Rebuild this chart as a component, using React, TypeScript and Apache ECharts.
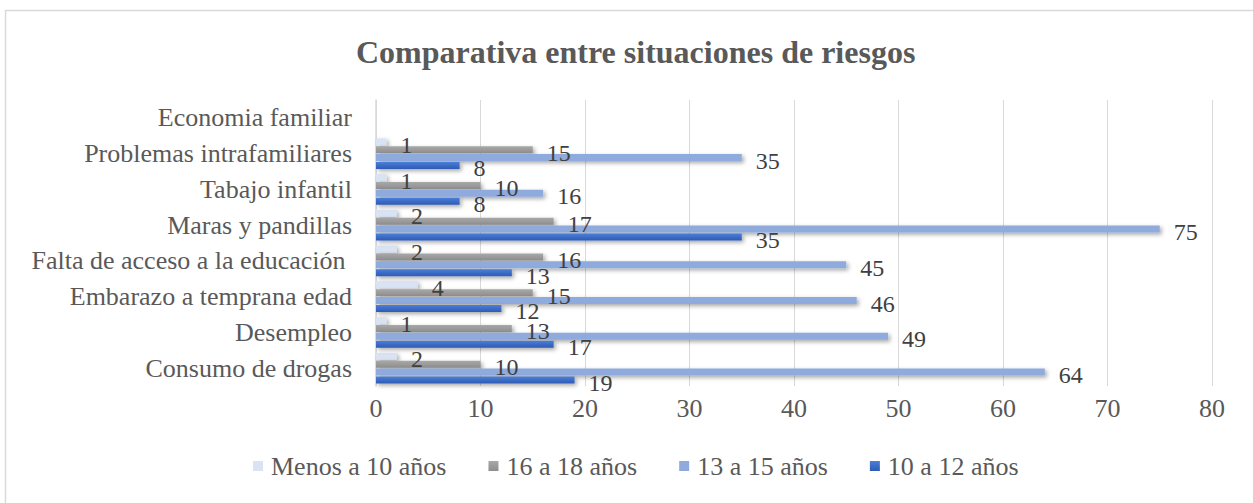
import React, { useEffect, useRef } from "react";
import * as echarts from "echarts";

const categories = [
  "Consumo de drogas",
  "Desempleo",
  "Embarazo a temprana edad",
  "Falta de acceso a la educación ",
  "Maras y pandillas",
  "Tabajo infantil",
  "Problemas intrafamiliares",
  "Economia familiar",
];
const sMenos10 = [2, 1, 4, 2, 2, 1, 1, null];
const s16a18 = [10, 13, 15, 16, 17, 10, 15, null];
const s13a15 = [64, 49, 46, 45, 75, 16, 35, null];
const s10a12 = [19, 17, 12, 13, 35, 8, 8, null];
const legendOrder = ["Menos a 10 años", "16 a 18 años", "13 a 15 años", "10 a 12 años"];
const xTicks = { min: 0, max: 80, interval: 10 };

const FONT = "'Liberation Serif', 'Times New Roman', serif";

export default function App() {
  const ref = useRef<HTMLDivElement>(null);
  useEffect(() => {
    document.body.style.margin = "0";
    const chart = echarts.init(ref.current!, null, { renderer: "svg" });
    const shadow = {
      shadowColor: "rgba(0,0,0,0.35)",
      shadowBlur: 4,
      shadowOffsetX: 2,
      shadowOffsetY: 2,
    };
    const label = {
      show: true,
      position: "right",
      distance: 14,
      offset: [0, 3],
      fontFamily: FONT,
      fontSize: 24,
      lineHeight: 16,
      color: "#404040",
    };
    const mk = (name: string, data: (number | null)[], color: any) => ({
      name,
      type: "bar",
      data,
      barWidth: 7,
      barGap: "12%",
      itemStyle: { color, ...shadow },
      label,
    });
    const grad = (a: string, b: string) =>
      new echarts.graphic.LinearGradient(0, 0, 0, 1, [
        { offset: 0, color: a },
        { offset: 1, color: b },
      ]);
    chart.setOption({
      animation: false,
      backgroundColor: "#ffffff",
      title: {
        text: "Comparativa entre situaciones de riesgos",
        left: 351,
        top: 31,
        textStyle: { fontFamily: FONT, fontSize: 32, fontWeight: "bold", color: "#595959" },
      },
      graphic: [
        {
          type: "rect",
          shape: { x: 5.5, y: 10.5, width: 1300, height: 600 },
          style: { fill: "none", stroke: "#d9d9d9", lineWidth: 1.5 },
          silent: true,
        },
      ],
      legend: {
        data: legendOrder,
        bottom: 19,
        left: 248,
        icon: "rect",
        itemWidth: 10,
        itemHeight: 10,
        itemGap: 42,
        textStyle: { fontFamily: FONT, fontSize: 26, color: "#595959", padding: [0, 0, 0, 3] },
      },
      grid: { left: 376, right: 41, top: 100, bottom: 117, containLabel: false },
      xAxis: {
        type: "value",
        ...xTicks,
        axisLine: { show: false },
        axisTick: { show: false },
        splitLine: { lineStyle: { color: "#d9d9d9", width: 1 } },
        axisLabel: { fontFamily: FONT, fontSize: 26, color: "#595959", margin: 9 },
      },
      yAxis: {
        type: "category",
        data: categories,
        axisLine: { show: true, lineStyle: { color: "#d9d9d9", width: 1.5 } },
        axisTick: { show: false },
        axisLabel: { fontFamily: FONT, fontSize: 26, color: "#595959", margin: 24 },
      },
      series: [
        mk("Menos a 10 años", sMenos10, "#dae3f3"),
        mk("16 a 18 años", s16a18, grad("#a8a8a8", "#8e8e8e")),
        mk("13 a 15 años", s13a15, "#8faadc"),
        mk("10 a 12 años", s10a12, grad("#4a7fd8", "#2f5bb5")),
      ],
    });
    return () => chart.dispose();
  }, []);
  return <div ref={ref} style={{ width: 1253, height: 503 }} />;
}
